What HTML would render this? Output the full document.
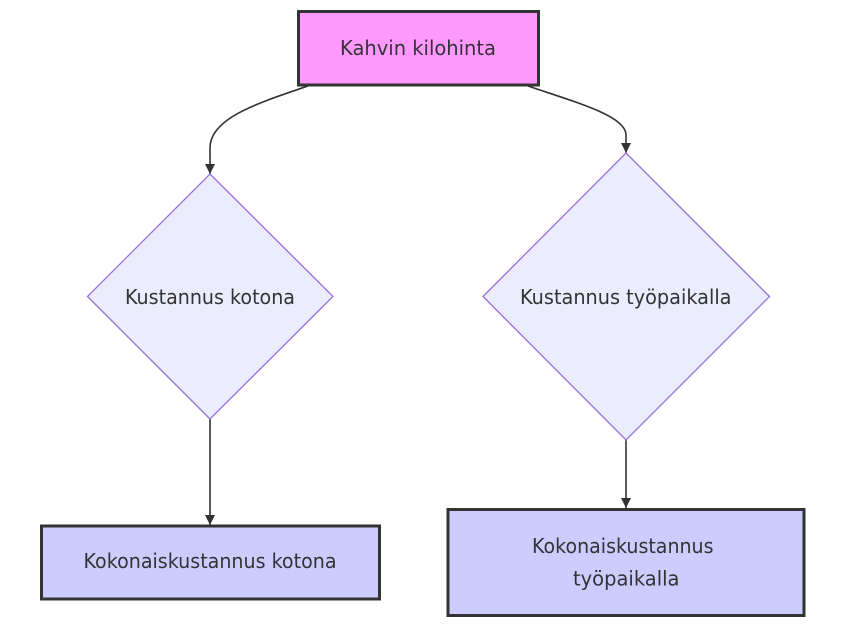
<!DOCTYPE html>
<html>
<head>
<meta charset="utf-8">
<style>
html,body{margin:0;padding:0;background:#ffffff;}
svg{display:block;}
text{font-family:"DejaVu Sans","Liberation Sans",sans-serif;font-size:20px;fill:#333333;}
</style>
</head>
<body>
<svg width="843" height="632" viewBox="0 0 843 632" xmlns="http://www.w3.org/2000/svg">
  <defs>
    <marker id="arr" viewBox="0 0 10 10" refX="10" refY="5" markerWidth="10" markerHeight="10" markerUnits="userSpaceOnUse" orient="auto">
      <path d="M0,0 L10,5 L0,10 z" fill="#333333"/>
    </marker>
  </defs>

  <!-- edges -->
  <path d="M308,86 C258,103 210,118 210,148 L210,174" fill="none" stroke="#333333" stroke-width="1.6" marker-end="url(#arr)"/>
  <path d="M528,86 C578,103 626,116 626,135 L626,153" fill="none" stroke="#333333" stroke-width="1.6" marker-end="url(#arr)"/>
  <path d="M210,419 L210,525" fill="none" stroke="#333333" stroke-width="1.6" marker-end="url(#arr)"/>
  <path d="M626,440 L626,508" fill="none" stroke="#333333" stroke-width="1.6" marker-end="url(#arr)"/>

  <!-- top box -->
  <rect x="298.5" y="11.5" width="240" height="73.5" fill="#ff99ff" stroke="#333333" stroke-width="3"/>
  <text x="340" y="55" textLength="156" lengthAdjust="spacingAndGlyphs">Kahvin kilohinta</text>

  <!-- left diamond -->
  <polygon points="210,174 333,296.5 210,419 87.5,296.5" fill="#ececff" stroke="#9370db" stroke-width="1.3"/>
  <text x="125" y="304" textLength="170" lengthAdjust="spacingAndGlyphs">Kustannus kotona</text>

  <!-- right diamond -->
  <polygon points="626,153 769.5,296.5 626,440 483,296.5" fill="#ececff" stroke="#9370db" stroke-width="1.3"/>
  <text x="520" y="304" textLength="211.5" lengthAdjust="spacingAndGlyphs">Kustannus työpaikalla</text>

  <!-- bottom left box -->
  <rect x="41.5" y="526" width="338" height="73" fill="#ccccff" stroke="#333333" stroke-width="3"/>
  <text x="83.5" y="568" textLength="253" lengthAdjust="spacingAndGlyphs">Kokonaiskustannus kotona</text>

  <!-- bottom right box -->
  <rect x="448" y="509.5" width="356" height="106" fill="#ccccff" stroke="#333333" stroke-width="3"/>
  <text x="532" y="553" textLength="181.5" lengthAdjust="spacingAndGlyphs">Kokonaiskustannus</text>
  <text x="573" y="585.5" textLength="106.5" lengthAdjust="spacingAndGlyphs">työpaikalla</text>
</svg>
</body>
</html>
